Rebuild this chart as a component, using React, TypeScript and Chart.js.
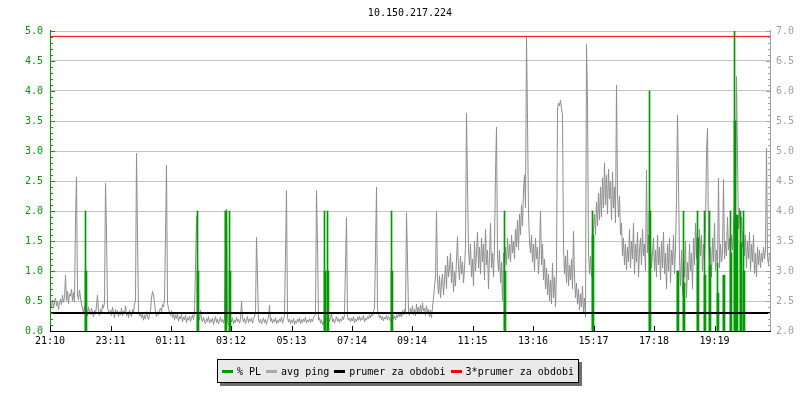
import React, { useEffect, useRef } from "react";
import { Chart, registerables } from "chart.js";

Chart.register(...registerables);

const TITLE = "10.150.217.224";

// x axis: minutes since 21:10
const tickMinutes = [0, 121, 241, 362, 483, 604, 724, 845, 966, 1087, 1208, 1329];
const tickLabels = ["21:10", "23:11", "01:11", "03:12", "05:13", "07:14", "09:14", "11:15", "13:16", "15:17", "17:18", "19:19"];
const xMaxMinutes = 1440;
const sampleStepMin = 2;
const sampleStartMin = 1; // samples sit in the middle of their 2-minute bin

// avg ping (ms), one sample every 2 minutes starting 21:10
const avgPing = [
  2.45, 2.40, 2.52, 2.38, 2.48, 2.55, 2.42, 2.50, 2.36, 2.47,
  2.53, 2.44, 2.60, 2.48, 2.56, 2.93, 2.50, 2.66, 2.45, 2.62,
  2.58, 2.70, 2.50, 2.64, 2.48, 3.85, 4.57, 2.60, 2.52, 2.68,
  2.55, 2.45, 2.38, 2.30, 2.42, 2.28, 2.36, 2.25, 2.40, 2.32,
  2.27, 2.38, 2.30, 2.24, 2.35, 2.28, 2.42, 2.60, 2.32, 2.26,
  2.36, 2.30, 2.44, 2.38, 2.48, 4.46, 3.67, 2.40, 2.32, 2.28,
  2.35, 2.26, 2.40, 2.30, 2.22, 2.36, 2.28, 2.34, 2.24, 2.32,
  2.27, 2.38, 2.25, 2.33, 2.29, 2.42, 2.26, 2.31, 2.22, 2.35,
  2.28, 2.24, 2.36, 2.30, 2.45, 2.50, 4.96, 3.60, 2.32, 2.25,
  2.30, 2.22, 2.28, 2.18, 2.26, 2.20, 2.32, 2.24, 2.19, 2.28,
  2.34, 2.55, 2.66, 2.60, 2.48, 2.30, 2.24, 2.32, 2.27, 2.35,
  2.38, 2.32, 2.44, 2.40, 2.52, 3.57, 4.76, 2.46, 2.38, 2.30,
  2.26, 2.34, 2.22, 2.30, 2.18, 2.27, 2.21, 2.29, 2.16, 2.24,
  2.20, 2.28, 2.15, 2.23, 2.19, 2.26, 2.14, 2.22, 2.18, 2.25,
  2.16, 2.21, 2.27, 2.19, 2.30, 3.05, 3.92, 3.25, 2.24, 2.18,
  2.35, 2.20, 2.15, 2.23, 2.17, 2.12, 2.21, 2.16, 2.24, 2.13,
  2.19, 2.15, 2.22, 2.11, 2.18, 2.24, 2.14, 2.20, 2.12, 2.17,
  2.23, 2.15, 2.19, 2.13, 2.21, 3.18, 4.03, 2.16, 2.10, 2.14,
  2.20, 2.15, 2.22, 2.12, 2.18, 2.14, 2.23, 2.16, 2.20, 2.13,
  2.19, 2.50, 2.22, 2.15, 2.21, 2.12, 2.18, 2.24, 2.14, 2.20,
  2.16, 2.22, 2.13, 2.19, 2.25, 2.30, 3.56, 2.90, 2.18, 2.14,
  2.20, 2.12, 2.17, 2.22, 2.14, 2.19, 2.11, 2.18, 2.23, 2.43,
  2.16, 2.21, 2.13, 2.19, 2.15, 2.22, 2.12, 2.18, 2.14, 2.20,
  2.16, 2.23, 2.13, 2.19, 2.26, 3.30, 4.34, 2.22, 2.15, 2.20,
  2.12, 2.18, 2.14, 2.21, 2.11, 2.17, 2.13, 2.20, 2.15, 2.22,
  2.12, 2.19, 2.14, 2.20, 2.16, 2.23, 2.13, 2.18, 2.15, 2.21,
  2.14, 2.20, 2.16, 2.22, 2.25, 2.28, 4.34, 3.45, 2.18, 2.22,
  2.13, 2.19, 2.10, 2.16, 2.08, 2.18, 2.21, 2.14, 2.20, 2.16,
  2.22, 2.30, 2.15, 2.20, 2.13, 2.19, 2.24, 2.16, 2.21, 2.14,
  2.20, 2.17, 2.24, 2.19, 2.27, 3.12, 3.89, 2.23, 2.18, 2.22,
  2.15, 2.21, 2.17, 2.24, 2.14, 2.20, 2.16, 2.23, 2.18, 2.25,
  2.17, 2.22, 2.19, 2.26, 2.15, 2.21, 2.18, 2.24, 2.20, 2.27,
  2.22, 2.28, 2.25, 2.33, 2.38, 3.33, 4.40, 2.36, 2.28, 2.22,
  2.26, 2.19, 2.24, 2.17, 2.23, 2.20, 2.26, 2.18, 2.24, 2.21,
  2.16, 2.22, 2.28, 2.20, 2.25, 2.19, 2.27, 2.22, 2.30, 2.24,
  2.29, 2.23, 2.34, 2.27, 2.36, 2.30, 3.97, 3.18, 2.32, 2.26,
  2.38, 2.30, 2.42, 2.27, 2.36, 2.25, 2.45, 2.31, 2.40, 2.28,
  2.43, 2.30, 2.47, 2.33, 2.38, 2.26, 2.42, 2.30, 2.36, 2.24,
  2.35, 2.22, 2.40, 2.55, 2.75, 2.90, 3.99, 2.85, 2.62, 2.92,
  2.55, 2.80, 2.95, 2.60, 2.85, 3.10, 2.70, 3.25, 2.90, 3.05,
  3.30, 2.80, 3.15, 2.65, 3.00, 2.75, 3.20, 3.57, 3.05, 2.85,
  3.25, 2.95, 3.15, 2.80, 3.05, 3.40, 5.63, 4.43, 3.35, 3.10,
  3.45, 2.90, 3.20, 2.75, 3.50, 3.00, 3.30, 3.65, 3.05, 3.40,
  2.95, 3.55, 3.15, 3.45, 2.85, 3.70, 3.10, 3.35, 2.70, 3.25,
  3.80, 3.05, 3.30, 2.90, 3.45, 4.63, 5.40, 3.25, 3.00, 3.35,
  2.80, 3.15, 2.50, 3.30, 3.05, 3.40, 3.10, 3.55, 3.20, 3.45,
  3.15, 3.60, 3.30, 3.50, 3.20, 3.70, 3.40, 3.85, 3.35, 3.95,
  3.60, 4.10, 3.75, 4.35, 4.60, 4.05, 6.90, 5.52, 3.95, 3.50,
  3.30, 3.60, 3.15, 3.45, 3.00, 3.55, 3.20, 3.40, 2.95, 3.30,
  4.00, 3.10, 3.45, 2.85, 3.20, 2.70, 3.05, 2.60, 2.95, 2.50,
  2.85, 2.45, 3.13, 2.55, 2.90, 2.40, 3.00, 5.70, 5.80, 5.75,
  5.85, 5.70, 5.60, 3.40, 2.95, 3.25, 2.80, 3.35, 2.75, 3.10,
  2.85, 3.20, 2.70, 3.66, 2.90, 2.55, 2.80, 2.45, 2.70, 2.35,
  2.62, 2.40, 2.75, 2.30, 2.55, 2.23, 6.78, 5.80, 3.30, 2.95,
  3.25, 2.90, 3.10, 3.70, 3.95, 3.60, 4.15, 3.75, 4.30, 3.85,
  4.40, 3.90, 4.55, 4.05, 4.80, 4.10, 4.60, 3.95, 4.70, 4.20,
  4.50, 3.85, 4.65, 4.05, 4.40, 3.80, 6.10, 4.30, 3.90, 4.25,
  3.60, 3.80, 3.25, 3.55, 3.10, 3.45, 3.02, 3.40, 3.15, 3.70,
  3.05, 3.50, 3.20, 3.80, 2.95, 3.45, 3.15, 3.65, 2.90, 3.35,
  3.55, 3.10, 3.70, 3.25, 3.45, 3.00, 4.68, 3.30, 3.60, 3.15,
  3.40, 3.05, 3.30, 3.55, 3.00, 3.35, 2.90, 3.60, 3.10, 3.40,
  2.85, 3.50, 3.05, 3.65, 2.95, 3.30, 2.70, 3.45, 3.00, 3.55,
  2.80, 3.35, 3.10, 3.60, 2.95, 3.40, 4.20, 5.60, 4.47, 3.20,
  2.75, 3.35, 2.60, 3.25, 2.90, 3.50, 2.55, 3.15, 2.85, 3.45,
  3.00, 3.30, 2.70, 3.55, 3.10, 3.80, 3.20, 3.65, 3.05, 3.70,
  3.25, 3.60, 3.00, 3.45, 3.20, 3.75, 4.98, 5.38, 3.50, 3.05,
  3.40, 2.90, 3.55, 3.15, 3.80, 3.00, 3.35, 3.10, 4.55, 3.05,
  3.45, 3.15, 3.30, 4.53, 3.20, 3.50, 3.25, 3.90, 3.35, 3.55,
  3.20, 3.60, 3.35, 3.75, 4.10, 3.80, 6.24, 4.85, 3.70, 4.05,
  3.55, 3.90, 3.40, 3.75, 3.25, 3.60, 3.05, 3.50, 3.20, 3.65,
  3.00, 3.45, 3.15, 3.60, 2.95, 3.30, 2.90, 3.40, 3.10, 3.35,
  3.05, 3.30, 3.15, 3.40, 3.20, 3.35, 5.05, 3.25, 3.10, 3.30,
];

// packet loss events (%): minute of event, peak sample and following sample
const plTimes = [71, 295, 351, 359, 549, 555, 683, 909, 1085, 1199, 1255, 1267, 1295, 1309, 1319, 1335, 1347, 1361, 1369, 1373, 1381, 1387];
const plPeak = [2.0, 2.0, 2.0, 2.0, 2.0, 2.0, 2.0, 2.0, 2.0, 4.0, 1.0, 2.0, 2.0, 2.0, 2.0, 1.13, 0.93, 2.0, 5.0, 1.93, 2.0, 2.0];
const plNext = [1.0, 1.0, 2.0, 1.0, 1.0, 1.0, 1.0, 1.0, 1.6, 2.0, 1.0, 0.8, 1.55, 0.93, 1.1, 0.63, 0.93, 1.3, 3.5, 1.93, 1.47, 1.0];

const meanPing = 2.3;
const meanPing3 = 6.91;

const legendLabels = ["% PL", "avg ping", "prumer za obdobi", "3*prumer za obdobi"];

const GREEN = "#009900";
const GRAY = "#8e8e8e";
const RIGHT_GRAY = "#a0a0a0";
const GRID = "#c4c4c4";
const RED = "#ff0000";
const FONT = "'DejaVu Sans Mono', monospace";
const legendColors = [GREEN, "#aaaaaa", "#000000", RED];

const rrdPlugin = {
  id: "rrdAxes",
  afterDatasetsDraw(chart: any) {
    const { ctx, chartArea: a, scales } = chart;
    const ys = scales.y;
    const y2s = scales.y2;
    const xs = scales.x;
    ctx.save();
    ctx.lineWidth = 1;
    // left axis (green)
    ctx.strokeStyle = GREEN;
    ctx.beginPath();
    ctx.moveTo(a.left + 0.5, a.top - 1);
    ctx.lineTo(a.left + 0.5, a.bottom);
    for (let k = 0; k <= 50; k++) {
      const py = Math.round(ys.getPixelForValue(k / 10)) + 0.5;
      const len = k % 5 === 0 ? 5 : 3;
      ctx.moveTo(a.left, py);
      ctx.lineTo(a.left + len, py);
    }
    ctx.stroke();
    // right axis (gray)
    ctx.strokeStyle = RIGHT_GRAY;
    ctx.beginPath();
    ctx.moveTo(a.right + 0.5, a.top - 1);
    ctx.lineTo(a.right + 0.5, a.bottom);
    for (let k = 20; k <= 70; k++) {
      const py = Math.round(y2s.getPixelForValue(k / 10)) + 0.5;
      const len = k % 5 === 0 ? 5 : 3;
      ctx.moveTo(a.right + 1, py);
      ctx.lineTo(a.right + 1 - len, py);
    }
    ctx.stroke();
    // bottom axis (black)
    ctx.strokeStyle = "#000";
    ctx.beginPath();
    ctx.moveTo(a.left, a.bottom + 0.5);
    ctx.lineTo(a.right + 1, a.bottom + 0.5);
    tickMinutes.forEach((m) => {
      const px = Math.round(xs.getPixelForValue(m)) + 0.5;
      ctx.moveTo(px, a.bottom);
      ctx.lineTo(px, a.bottom - 5);
    });
    ctx.stroke();
    // title
    ctx.fillStyle = "#000";
    ctx.font = "10px " + FONT;
    ctx.textAlign = "center";
    ctx.textBaseline = "middle";
    ctx.fillText(TITLE, (a.left + a.right) / 2, 13);
    ctx.restore();
  },
};

export default function App() {
  const ref = useRef<HTMLCanvasElement>(null);

  useEffect(() => {
    if (!ref.current) return;
    Chart.defaults.font.family = FONT;
    Chart.defaults.font.size = 10;

    const pingData = avgPing.map((v, i) => ({ x: sampleStartMin + i * sampleStepMin, y: v }));
    const plPeakData = plTimes.map((t, i) => ({ x: t, y: plPeak[i] }));
    // the following sample's bar covers the event sample and the next one
    const plNextData = plTimes.map((t, i) => ({ x: t + sampleStartMin, y: plNext[i] }));

    const chart = new Chart(ref.current, {
      type: "line",
      data: {
        datasets: [
          {
            type: "line",
            label: "avg ping",
            data: pingData,
            yAxisID: "y2",
            borderColor: GRAY,
            borderWidth: 1,
            pointRadius: 0,
            tension: 0,
            order: 4,
          } as any,
          {
            type: "bar",
            label: "% PL",
            data: plPeakData,
            yAxisID: "y",
            backgroundColor: GREEN,
            barThickness: 1,
            grouped: false,
            order: 3,
          } as any,
          {
            type: "bar",
            label: "% PL next",
            data: plNextData,
            yAxisID: "y",
            backgroundColor: GREEN,
            barThickness: 2,
            grouped: false,
            order: 2,
          } as any,
          {
            type: "line",
            label: "prumer za obdobi",
            data: [{ x: 0, y: meanPing }, { x: xMaxMinutes, y: meanPing }],
            yAxisID: "y2",
            borderColor: "#000",
            borderWidth: 2,
            pointRadius: 0,
            order: 1,
          } as any,
          {
            type: "line",
            label: "3*prumer za obdobi",
            data: [{ x: 0, y: meanPing3 }, { x: xMaxMinutes, y: meanPing3 }],
            yAxisID: "y2",
            borderColor: RED,
            borderWidth: 1,
            pointRadius: 0,
            order: 0,
          } as any,
        ],
      },
      options: {
        responsive: false,
        devicePixelRatio: 1,
        animation: false,
        events: [],
        layout: { padding: { top: 31, left: 0, right: 0, bottom: 0 } },
        plugins: {
          legend: { display: false },
          tooltip: { enabled: false },
          title: { display: false },
        },
        scales: {
          x: {
            type: "linear",
            min: 0,
            max: xMaxMinutes,
            offset: false,
            grid: { display: false, drawTicks: false, offset: false },
            border: { display: false },
            afterBuildTicks: (scale: any) => {
              scale.ticks = tickMinutes.map((v) => ({ value: v }));
            },
            afterFit: (scale: any) => {
              scale.height = 69;
            },
            ticks: {
              autoSkip: false,
              maxRotation: 0,
              minRotation: 0,
              padding: 4,
              color: "#000",
              font: { family: FONT, size: 10 },
              callback: (value: any) => {
                const idx = tickMinutes.indexOf(Number(value));
                return idx >= 0 ? tickLabels[idx] : "";
              },
            },
          },
          y: {
            type: "linear",
            position: "left",
            min: 0,
            max: 5,
            grid: { color: GRID, lineWidth: 1, drawTicks: false },
            border: { display: false },
            afterFit: (scale: any) => {
              scale.width = 50;
            },
            ticks: {
              stepSize: 0.5,
              padding: 7,
              color: GREEN,
              font: { family: FONT, size: 10 },
              callback: (v: any) => Number(v).toFixed(1),
            },
          },
          y2: {
            type: "linear",
            position: "right",
            min: 2,
            max: 7,
            grid: { display: false, drawTicks: false },
            border: { display: false },
            afterFit: (scale: any) => {
              scale.width = 30;
            },
            ticks: {
              stepSize: 0.5,
              padding: 6,
              color: RIGHT_GRAY,
              font: { family: FONT, size: 10 },
              callback: (v: any) => Number(v).toFixed(1),
            },
          },
        },
      } as any,
      plugins: [rrdPlugin],
    });

    return () => chart.destroy();
  }, []);

  return (
    <div style={{ position: "fixed", left: 0, top: 0, width: 800, height: 400, background: "#fff" }}>
      <canvas ref={ref} width={800} height={400} style={{ display: "block", width: 800, height: 400 }} />
      <div
        style={{
          position: "absolute",
          left: 217,
          top: 359,
          width: 362,
          height: 24,
          boxSizing: "border-box",
          border: "1px solid #000",
          background: "#e9e9e9",
          boxShadow: "3px 3px 0 #6e6e6e",
          display: "flex",
          alignItems: "center",
          paddingLeft: 4,
          font: "10px " + FONT,
          color: "#000",
          whiteSpace: "pre",
        }}
      >
        {legendLabels.map((t, i) => (
          <span key={t} style={{ display: "flex", alignItems: "center", marginRight: 5 }}>
            <span style={{ display: "inline-block", width: 11, height: 3, background: legendColors[i], marginRight: 4 }} />
            <span>{t}</span>
          </span>
        ))}
      </div>
    </div>
  );
}
